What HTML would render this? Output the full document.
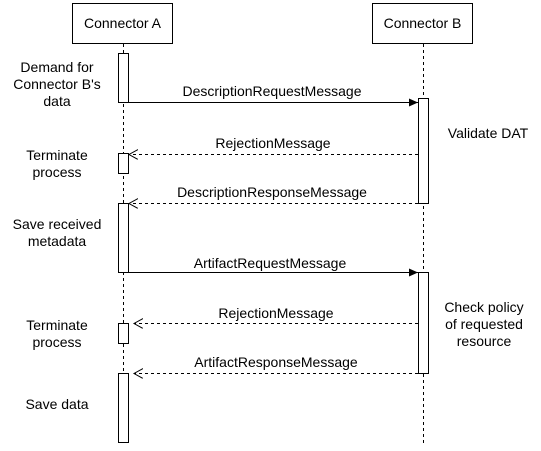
<!DOCTYPE html>
<html><head><style>body{margin:0;background:#fff}svg{display:block}text{font-family:"Liberation Sans",Arial,sans-serif;font-size:14px;fill:#000}</style></head>
<body>
<svg width="541" height="451" viewBox="0 0 541 451" xmlns="http://www.w3.org/2000/svg">
<defs>
<marker id="f" markerWidth="10" markerHeight="10" refX="9" refY="4" orient="auto" markerUnits="userSpaceOnUse"><path d="M0,0 L9,4 L0,8 Z" fill="#000"/></marker>
<marker id="o" markerWidth="12" markerHeight="12" refX="9" refY="5" orient="auto" markerUnits="userSpaceOnUse"><path d="M0,0 L9,5 L0,10" fill="none" stroke="#000"/></marker>
</defs>
<rect x="72.5" y="3.5" width="100" height="40" fill="#fff" stroke="#000"/>
<text x="122.5" y="28" text-anchor="middle">Connector A</text>
<rect x="372.5" y="3.5" width="100" height="40" fill="#fff" stroke="#000"/>
<text x="422.5" y="28" text-anchor="middle">Connector B</text>
<line x1="123.5" y1="44" x2="123.5" y2="445" stroke="#000" stroke-dasharray="3,3"/>
<line x1="423.5" y1="44" x2="423.5" y2="445" stroke="#000" stroke-dasharray="3,3"/>
<g fill="#fff" stroke="#000">
<rect x="118.5" y="53.5" width="10" height="49"/>
<rect x="118.5" y="153.5" width="10" height="20"/>
<rect x="118.5" y="203.5" width="10" height="69"/>
<rect x="118.5" y="323.5" width="10" height="20"/>
<rect x="118.5" y="373.5" width="10" height="69"/>
<rect x="418.5" y="98.5" width="10" height="105"/>
<rect x="418.5" y="272.5" width="10" height="101"/>
</g>
<line x1="128.5" y1="102.5" x2="418" y2="102.5" stroke="#000" marker-end="url(#f)"/>
<line x1="418" y1="154.5" x2="129" y2="154.5" stroke="#000" stroke-dasharray="3,3" marker-end="url(#o)"/>
<line x1="418" y1="203.5" x2="129" y2="203.5" stroke="#000" stroke-dasharray="3,3" marker-end="url(#o)"/>
<line x1="128.5" y1="272.5" x2="418" y2="272.5" stroke="#000" marker-end="url(#f)"/>
<line x1="418" y1="323.5" x2="134" y2="323.5" stroke="#000" stroke-dasharray="3,3" marker-end="url(#o)"/>
<line x1="418" y1="373.5" x2="134" y2="373.5" stroke="#000" stroke-dasharray="3,3" marker-end="url(#o)"/>
<g text-anchor="middle">
<text x="272" y="96">DescriptionRequestMessage</text>
<text x="273" y="148">RejectionMessage</text>
<text x="272" y="197">DescriptionResponseMessage</text>
<text x="270" y="268">ArtifactRequestMessage</text>
<text x="276" y="318">RejectionMessage</text>
<text x="276" y="367">ArtifactResponseMessage</text>
<text x="57" y="72">Demand for</text>
<text x="57" y="89">Connector B's</text>
<text x="57" y="106">data</text>
<text x="57" y="160">Terminate</text>
<text x="57" y="177">process</text>
<text x="57" y="229">Save received</text>
<text x="57" y="246">metadata</text>
<text x="57" y="330">Terminate</text>
<text x="57" y="347">process</text>
<text x="57" y="409">Save data</text>
<text x="488" y="138">Validate DAT</text>
<text x="484" y="312">Check policy</text>
<text x="484" y="329">of requested</text>
<text x="484" y="346">resource</text>
</g>
</svg>
</body></html>
